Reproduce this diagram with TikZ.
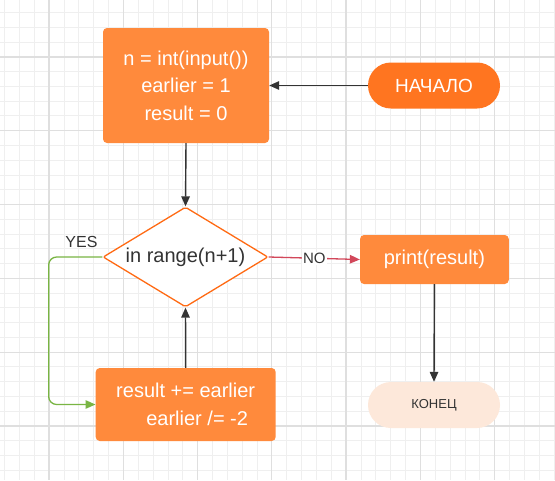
\documentclass[tikz,border=0pt]{standalone}
\usepackage{fontspec}
\setmainfont{Liberation Sans}
\usetikzlibrary{shapes.geometric, shapes.misc, arrows.meta}

\definecolor{boxorange}{HTML}{FF8A3C}
\definecolor{startorange}{HTML}{FF7520}
\definecolor{endpeach}{HTML}{FDE8DA}
\definecolor{condedge}{HTML}{FF6A13}
\definecolor{yesgreen}{HTML}{79B543}
\definecolor{nored}{HTML}{D2475A}
\definecolor{darktext}{HTML}{333333}
\definecolor{gridminor}{HTML}{EFEFEF}
\definecolor{gridmajor}{HTML}{DFDFDF}

\begin{document}
\begin{tikzpicture}[x=1pt, y=-1pt,
  actionbox/.style={rectangle, rounded corners=4pt, fill=boxorange, text=white, align=center, inner sep=0pt, font=\fontsize{20}{27.5}\selectfont},
  terminal/.style={rounded rectangle, minimum width=132pt, minimum height=46pt, inner sep=0pt},
  condbox/.style={diamond, aspect=1.65, draw=condedge, line width=1.3pt, fill=white, rounded corners=2pt, minimum width=165pt, minimum height=100pt, inner sep=0pt, text=darktext, font=\fontsize{20}{24}\selectfont},
  flowarrow/.style={-{Triangle[length=10pt, width=8.5pt]}, line width=1.4pt, draw=darktext},
  yesarrow/.style={-{Triangle[length=10pt, width=8.5pt]}, line width=1.3pt, draw=yesgreen, rounded corners=8pt},
  noarrow/.style={-{Triangle[length=10pt, width=8.5pt]}, line width=1.3pt, draw=nored},
  branchlabel/.style={text=darktext, font=\fontsize{16}{16}\selectfont, inner sep=1pt}]

% Background and grid
\useasboundingbox (0,0) rectangle (555,480);
\fill[white] (0,0) rectangle (555,480);
\foreach \i in {0,...,37} \draw[gridminor, line width=0.9pt] ({4.6+14.85*\i},0) -- ({4.6+14.85*\i},480);
\foreach \j in {0,...,31} \draw[gridminor, line width=0.9pt] (0,{12.6+14.76*\j}) -- (555,{12.6+14.76*\j});
\foreach \i in {0,...,6} \draw[gridmajor, line width=1.1pt] ({49+74.25*\i},0) -- ({49+74.25*\i},480);
\foreach \j in {0,...,5} \draw[gridmajor, line width=1.1pt] (0,{57+73.8*\j}) -- (555,{57+73.8*\j});

% Start
\node[terminal, fill=startorange, text=white, font=\fontsize{19}{19}\selectfont] (start) at (434,85.5) {НАЧАЛО};

% Initialisation
\node[actionbox, minimum width=166pt, minimum height=115pt] (init) at (186,85.5) {n = int(input())\\earlier = 1\\result = 0};

% Loop condition
\node[condbox] (cond) at (185.5,257) {in range(n+1)};

% Loop body
\node[actionbox, minimum width=180pt, minimum height=73pt] (body) at (185.7,404.5) {result += earlier\\\hspace*{23pt}earlier /= -2};

% Output
\node[actionbox, minimum width=148.7pt, minimum height=49pt] (output) at (434.4,259.5) {print(result)};

% End
\node[terminal, fill=endpeach, text=darktext, font=\fontsize{13}{13}\selectfont] (finish) at (434,405) {КОНЕЦ};

% Arrows
\draw[flowarrow] (start.west) -- (init.east);
\draw[flowarrow] (init.south) -- (cond.north);
\draw[flowarrow] (body.north) -- (cond.south);
\draw[flowarrow] (output.south) -- (finish.north);
\draw[yesarrow] (cond.west) -- ++(-53.7,0) coordinate (bend) |- (body.west);
\draw[noarrow] (cond.east) -- node[branchlabel, fill=white, font=\fontsize{15}{15}\selectfont] {NO} (output.west);

% Branch labels
\node[branchlabel] (yes) at (81.5,242) {YES};

\end{tikzpicture}
\end{document}
